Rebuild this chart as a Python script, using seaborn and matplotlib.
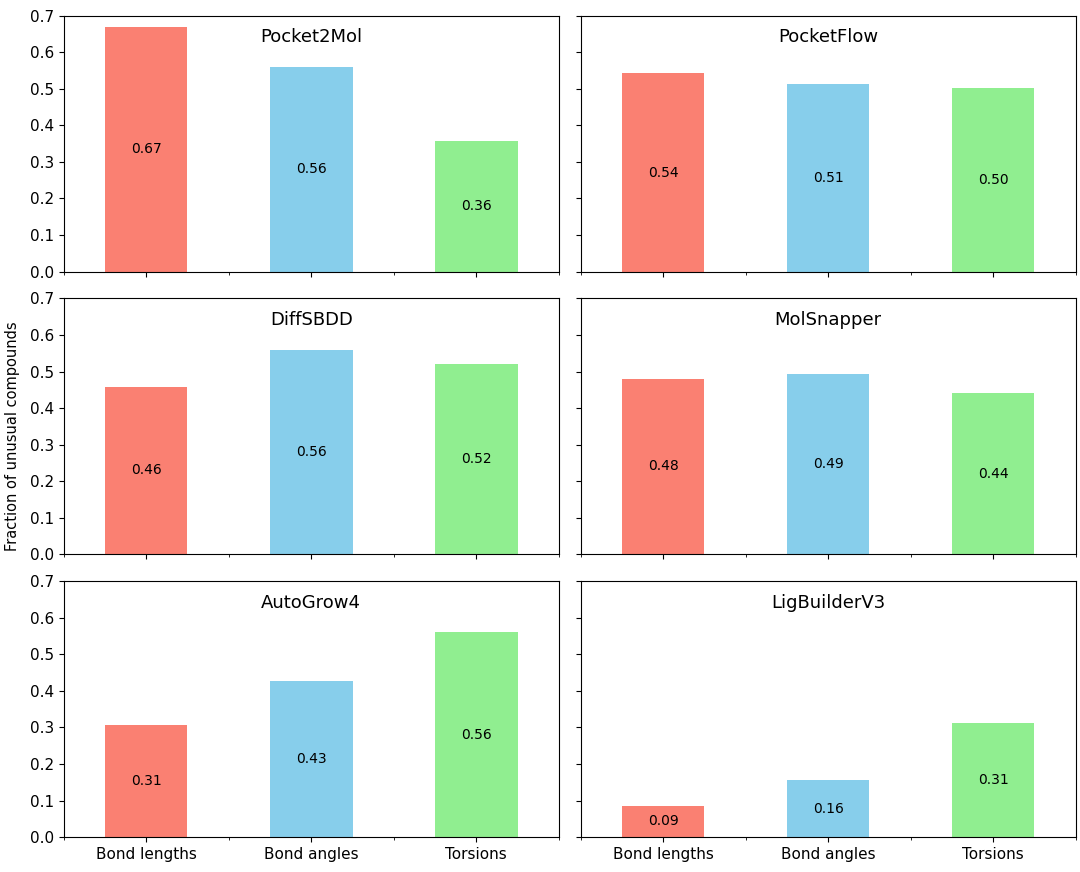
import matplotlib
matplotlib.use('Agg')
import matplotlib.pyplot as plt
import pandas as pd
import seaborn as sns

# values
metrics = ['Bond lengths', 'Bond angles', 'Torsions']
methods = ['Pocket2Mol', 'PocketFlow', 'DiffSBDD', 'MolSnapper', 'AutoGrow4', 'LigBuilderV3']
pocket2mol = [0.668, 0.561, 0.358]
pocketflow = [0.542, 0.512, 0.503]
diffsbdd = [0.459, 0.560, 0.522]
molsnapper = [0.481, 0.494, 0.442]
autogrow4 = [0.306, 0.426, 0.561]
ligbuilder = [0.086, 0.156, 0.311]
colors = ['salmon', 'skyblue', 'lightgreen']

values = [pocket2mol, pocketflow, diffsbdd, molsnapper, autogrow4, ligbuilder]

fig, axes = plt.subplots(3, 2, figsize=(10.8, 8.72), dpi=100, sharex=True, sharey=True)
fig.subplots_adjust(left=0.059, right=0.996, top=0.982, bottom=0.040, wspace=0.044, hspace=0.105)

for ax, name, vals in zip(axes.flat, methods, values):
    df = pd.DataFrame({'metric': metrics, 'value': vals})
    sns.barplot(data=df, x='metric', y='value', hue='metric', palette=colors,
                saturation=1, width=0.5, legend=False, ax=ax)
    for i, v in enumerate(vals):
        ax.text(i, v / 2, f'{v:.2f}', ha='center', va='center', fontsize=10)
    ax.text(0.5, 0.915, name, transform=ax.transAxes, ha='center', va='center', fontsize=13)
    ax.set_xlabel('')
    ax.set_ylabel('')
    ax.set_ylim(0, 0.7)
    ax.set_xlim(-0.5, 2.5)
    ax.set_xticks([-0.5, 0.5, 1.5, 2.5], minor=True)
    ax.tick_params(labelsize=11)

fig.text(0.012, 0.5, 'Fraction of unusual compounds', rotation=90, ha='center', va='center', fontsize=10.5)

fig.savefig('out.png')
